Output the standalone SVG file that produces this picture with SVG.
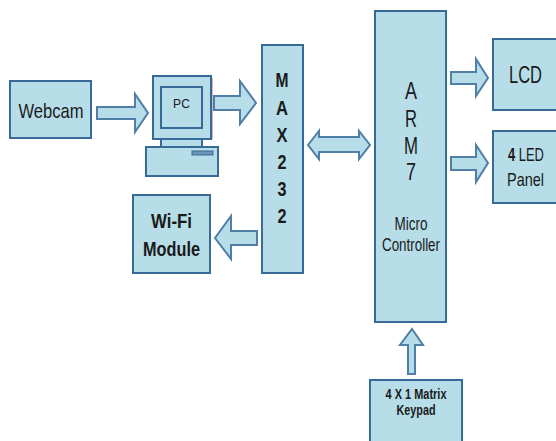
<svg xmlns="http://www.w3.org/2000/svg" width="556" height="441" viewBox="0 0 556 441">
<style>
.b{fill:#b7dde8;stroke:#386a97;stroke-width:2}
.a{fill:#b7dde8;stroke:#4f7ea6;stroke-width:2;stroke-linejoin:miter}
text{font-family:"Liberation Sans",Arial,sans-serif;fill:#1a1a1a;text-anchor:middle}
.bd{font-weight:bold}
</style>
<rect width="556" height="441" fill="#fff"/>
<g id="connectors">
<path class="a" d="M97 107H135V94L148 113L135 132V119H97Z"/>
<path class="a" d="M214 96H240V81L256 103L240 124V110H214Z"/>
<path class="a" d="M257 231H231V216L215 238L231 259V245H257Z"/>
<path class="a" d="M308 145L319 131V137H359V131L370 145L359 159V152H319V159Z"/>
<path class="a" d="M451 72H476V59L488 78L476 96V84H451Z"/>
<path class="a" d="M451 157H476V145L488 163L476 182V170H451Z"/>
<path class="a" d="M408 374V345H400L412 329L423 345H415V374Z"/>
</g>
<g id="webcam"><rect class="b" x="10" y="81" width="81" height="57"/><text x="51" y="118" font-size="21" textLength="65" lengthAdjust="spacingAndGlyphs">Webcam</text></g>
<g id="pc">
<path d="M212 78H213V139H212ZM147 176H219V149H218V177H147Z" fill="#d9b4b4"/>
<rect class="b" x="153" y="76" width="58" height="63"/>
<rect class="b" x="161" y="87" width="41" height="41"/>
<rect class="b" x="161" y="139" width="41" height="8"/>
<rect class="b" x="146" y="147" width="72" height="29"/>
<rect x="192" y="151" width="21" height="4" fill="#6d93b5" stroke="#386a97"/>
<text x="181.500" y="108" font-size="12" textLength="17" lengthAdjust="spacing">PC</text>
</g>
<g id="wifi"><rect class="b" x="133" y="195" width="77" height="78"/><text class="bd" x="171.500" y="228" font-size="21" textLength="41" lengthAdjust="spacingAndGlyphs">Wi-Fi</text><text class="bd" x="171.500" y="256" font-size="21" textLength="57" lengthAdjust="spacingAndGlyphs">Module</text></g>
<g id="max232"><rect class="b" x="262" y="45" width="41" height="228"/>
<text class="bd" x="282" y="87" font-size="21" textLength="13" lengthAdjust="spacingAndGlyphs">M</text><text class="bd" x="282" y="115" font-size="21" textLength="12" lengthAdjust="spacingAndGlyphs">A</text><text class="bd" x="282" y="142" font-size="21" textLength="11" lengthAdjust="spacingAndGlyphs">X</text><text class="bd" x="282" y="169" font-size="21" textLength="9" lengthAdjust="spacingAndGlyphs">2</text><text class="bd" x="282" y="196" font-size="21" textLength="9" lengthAdjust="spacingAndGlyphs">3</text><text class="bd" x="282" y="223" font-size="21" textLength="9" lengthAdjust="spacingAndGlyphs">2</text></g>
<g id="arm"><rect class="b" x="375" y="11" width="71" height="311"/>
<text x="411" y="99" font-size="23" textLength="12" lengthAdjust="spacingAndGlyphs">A</text><text x="411" y="127" font-size="23" textLength="12" lengthAdjust="spacingAndGlyphs">R</text><text x="411" y="154" font-size="23" textLength="14" lengthAdjust="spacingAndGlyphs">M</text><text x="411" y="180" font-size="23" textLength="10" lengthAdjust="spacingAndGlyphs">7</text>
<text x="411" y="230" font-size="18" textLength="33" lengthAdjust="spacingAndGlyphs">Micro</text><text x="411" y="251" font-size="18" textLength="58" lengthAdjust="spacingAndGlyphs">Controller</text></g>
<g id="lcd"><rect class="b" x="493" y="39" width="65" height="71"/><text x="525.500" y="83" font-size="23" textLength="33" lengthAdjust="spacingAndGlyphs">LCD</text></g>
<g id="led"><rect class="b" x="493" y="131" width="65" height="72"/><text transform="translate(526 161) scale(.68 1)" font-size="19"><tspan class="bd">4</tspan> LED</text><text x="525.500" y="186" font-size="19" textLength="37" lengthAdjust="spacingAndGlyphs">Panel</text></g>
<g id="keypad"><rect class="b" x="370" y="380" width="92" height="64"/><text class="bd" x="416" y="399" font-size="15" textLength="61" lengthAdjust="spacingAndGlyphs">4 X 1 Matrix</text><text class="bd" x="416" y="415" font-size="15" textLength="39" lengthAdjust="spacingAndGlyphs">Keypad</text></g>
</svg>
